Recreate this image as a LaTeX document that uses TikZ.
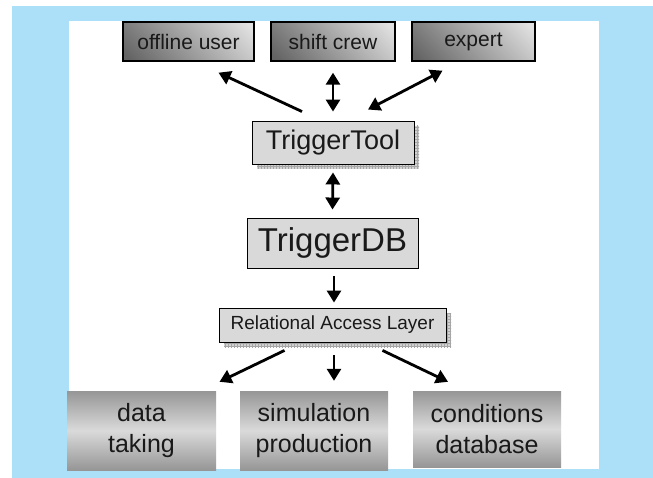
\documentclass[tikz,border=0pt]{standalone}
\usepackage{fontspec}
\setmainfont{Liberation Sans}
\usetikzlibrary{arrows.meta,calc,shadows,patterns}
\definecolor{skyblue}{RGB}{172,224,249}
\definecolor{boxgray}{RGB}{217,217,217}
\definecolor{darkshade}{RGB}{100,100,100}
\definecolor{lightshade}{RGB}{225,225,225}
\definecolor{sidegray}{RGB}{150,150,150}
\definecolor{midgray}{RGB}{218,218,218}
% gradual diagonal fade for the user boxes
\pgfdeclarehorizontalshading{rolefade}{100bp}{color(0bp)=(darkshade); color(18bp)=(darkshade); color(82bp)=(lightshade); color(100bp)=(lightshade)}
\tikzset{
  role/.style={draw=black, line width=1.4pt, minimum height=39pt, inner sep=0pt,
    shade, shading=rolefade, shading angle=45,
    font=\fontsize{21}{24}\selectfont, text=black!90},
  plainbox/.style={draw=black, line width=0.9pt, fill=boxgray, inner sep=0pt, text=black!90},
  gridshadow/.style={general shadow={shadow xshift=5pt, shadow yshift=-5pt, fill=gray!35},
    general shadow={shadow xshift=5pt, shadow yshift=-5pt, pattern=grid, pattern color=gray!70}},
  client/.style={inner sep=0pt, minimum height=79pt, align=center,
    top color=sidegray, bottom color=sidegray, middle color=midgray,
    font=\fontsize{25}{31}\selectfont, text=black!90},
  link/.style={line width=2.8pt, -{Triangle[length=12pt,width=14pt]}},
  twoway/.style={line width=2.8pt, {Triangle[length=12pt,width=14pt]}-{Triangle[length=12pt,width=14pt]}}
}
\begin{document}
\begin{tikzpicture}[x=1pt, y=-1pt]
  \useasboundingbox (0,0) rectangle (653,478);
  % backdrop and white panel
  \fill[white] (0,0) rectangle (653,478);
  \fill[skyblue] (12,6) rectangle (653,478);
  \fill[white] (69,21) rectangle (599,469);

  % users
  \node[role, minimum width=131pt] (off) at (188.5,41.5) {offline user};
  \node[role, minimum width=124pt] (shift) at (333,41.5) {shift crew};
  \node[role, minimum width=123pt] (exp) at (473.5,41.5) {expert};

  % core stack
  \node[plainbox, gridshadow, minimum width=162pt, minimum height=43pt,
        font=\fontsize{27}{30}\selectfont] (tt) at (333,142.5) {TriggerTool};
  \node[plainbox, minimum width=171pt, minimum height=50pt,
        font=\fontsize{33}{36}\selectfont] (db) at (332.5,243) {TriggerDB};
  \node[plainbox, gridshadow, minimum width=227pt, minimum height=34pt,
        font=\fontsize{19}{22}\selectfont] (ral) at (332.5,325) {Relational Access Layer};

  % clients
  \node[client, minimum width=149pt] (dt) at (141.5,430.5) {data\\taking};
  \node[client, minimum width=148pt] (sim) at (314,430.5) {simulation\\production};
  \node[client, minimum width=148pt, minimum height=76pt] (cond) at (487,429) {conditions\\database};

  % connectors
  \draw[link] ($(tt.north)+(-31,-9)$) -- ($(off.south)+(30,11)$);
  \draw[twoway] ($(tt.north)+(0,-9)$) -- ($(shift.south)+(0,11)$);
  \draw[twoway] ($(tt.north)+(35,-11)$) -- ($(exp.south)+(-31,9)$);
  \draw[twoway] ($(tt.south)+(0,8)$) -- ($(db.north)+(0,-8)$);
  \draw[link] ($(db.south)+(1.5,8)$) -- ($(ral.north)+(1.5,-5)$);
  \draw[link] ($(ral.south)+(-48,8)$) -- ($(dt.north)+(78,-9)$);
  \draw[link] ($(ral.south)+(1.5,13)$) -- ($(sim.north)+(20,-10)$);
  \draw[link] ($(ral.south)+(50,8)$) -- ($(cond.north)+(-39,-9)$);
\end{tikzpicture}
\end{document}
